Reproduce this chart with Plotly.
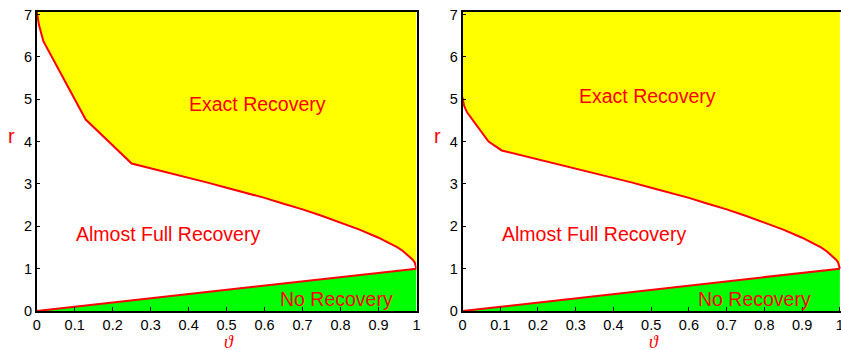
import plotly.graph_objects as go

# Phase-boundary samples (theta, r) for the two panels
theta_left = [0.0, 0.006, 0.0175, 0.129, 0.25, 0.3, 0.35, 0.4, 0.45, 0.5, 0.55, 0.6, 0.65, 0.7, 0.75,
              0.8, 0.85, 0.9, 0.925, 0.95, 0.965, 0.98, 0.99, 0.995, 0.999, 1.0]
r_left = [7.07, 6.75, 6.37, 4.52, 3.48, 3.37, 3.26, 3.15, 3.03, 2.91, 2.79, 2.67, 2.53, 2.40, 2.25,
          2.09, 1.92, 1.73, 1.62, 1.50, 1.41, 1.30, 1.21, 1.15, 1.06, 1.0]

theta_right = [0.0, 0.004, 0.012, 0.069, 0.104, 0.15, 0.2, 0.25, 0.3, 0.35, 0.4, 0.45, 0.5, 0.55, 0.6, 0.65,
               0.7, 0.75, 0.8, 0.85, 0.9, 0.925, 0.95, 0.965, 0.98, 0.99, 0.995, 0.999, 1.0]
r_right = [5.04, 4.85, 4.69, 4.00, 3.79, 3.69, 3.59, 3.48, 3.37, 3.26, 3.15, 3.03, 2.91, 2.79, 2.67, 2.53,
           2.40, 2.25, 2.09, 1.92, 1.73, 1.62, 1.50, 1.41, 1.30, 1.21, 1.15, 1.06, 1.0]

# Lower boundary r = theta (no-recovery region)
theta_low = [0.0, 1.0]
r_low = [0.0, 1.0]

x_ticks = [0, 0.1, 0.2, 0.3, 0.4, 0.5, 0.6, 0.7, 0.8, 0.9, 1]
x_tick_text = ["0", "0.1", "0.2", "0.3", "0.4", "0.5", "0.6", "0.7", "0.8", "0.9", "1"]
y_ticks = [0, 1, 2, 3, 4, 5, 6, 7]
y_tick_text = ["0", "1", "2", "3", "4", "5", "6", "7"]

region_labels = ["Exact Recovery", "Almost Full Recovery", "No Recovery"]
label_theta_left = [0.582, 0.345, 0.79]
label_r_left = [4.89, 1.82, 0.29]
label_theta_right = [0.489, 0.348, 0.775]
label_r_right = [5.08, 1.82, 0.29]

R_MAX = 7.07
W, H = 841, 350
YELLOW = "#ffff00"
GREEN = "#00ff00"
RED = "#ff0000"

fig = go.Figure()


def add_panel(theta, r, lab_x, lab_y, xa, ya):
    # yellow exact-recovery area above the boundary
    fig.add_trace(go.Scatter(
        x=theta + [1.0, 0.0], y=r + [R_MAX, R_MAX],
        fill="toself", fillcolor=YELLOW, line=dict(width=0),
        mode="lines", hoverinfo="skip", xaxis=xa, yaxis=ya))
    # green no-recovery area below r = theta
    fig.add_trace(go.Scatter(
        x=theta_low + [1.0], y=r_low + [0.0],
        fill="toself", fillcolor=GREEN, line=dict(width=0),
        mode="lines", hoverinfo="skip", xaxis=xa, yaxis=ya))
    # boundary curves
    fig.add_trace(go.Scatter(
        x=theta, y=r, mode="lines", line=dict(color=RED, width=2),
        hoverinfo="skip", xaxis=xa, yaxis=ya))
    fig.add_trace(go.Scatter(
        x=theta_low, y=r_low, mode="lines", line=dict(color=RED, width=2),
        hoverinfo="skip", xaxis=xa, yaxis=ya))
    for txt, tx, ty in zip(region_labels, lab_x, lab_y):
        fig.add_annotation(x=tx, y=ty, xref=xa, yref=ya, text=txt, showarrow=False,
                           xanchor="center", yanchor="middle",
                           font=dict(family="Liberation Sans, Arial", size=19.5, color=RED))


add_panel(theta_left, r_left, label_theta_left, label_r_left, "x", "y")
add_panel(theta_right, r_right, label_theta_right, label_r_right, "x2", "y2")

axis_common = dict(showline=True, linecolor="black", linewidth=1.5, mirror=True,
                   ticks="inside", ticklen=4, tickcolor="black", tickwidth=1,
                   showgrid=False, zeroline=False, automargin=False, ticklabeloverflow="allow",
                   tickfont=dict(family="Liberation Sans, Arial", size=14.5, color="black"))

y_bot, y_top = 1 - 311 / H, 1 - 11.5 / H
fig.update_layout(
    width=W, height=H, margin=dict(l=0, r=0, t=0, b=0, autoexpand=False),
    paper_bgcolor="white", plot_bgcolor="white", showlegend=False,
    xaxis=dict(domain=[36.7 / W, 416.5 / W], range=[0, 1], tickvals=x_ticks, ticktext=x_tick_text, **axis_common),
    yaxis=dict(domain=[y_bot, y_top], range=[0, R_MAX], tickvals=y_ticks, ticktext=y_tick_text, **axis_common),
    xaxis2=dict(domain=[462.5 / W, 1.0], range=[0, 1.003], tickvals=x_ticks, ticktext=x_tick_text,
                anchor="y2", **axis_common),
    yaxis2=dict(domain=[y_bot, y_top], range=[0, R_MAX], tickvals=y_ticks, ticktext=y_tick_text,
                anchor="x2", **axis_common),
)

# axis titles
for px in (11.5, 437.5):
    fig.add_annotation(x=px / W, y=1 - 136 / H, xref="paper", yref="paper", text="r", showarrow=False,
                       xanchor="center", yanchor="middle",
                       font=dict(family="Liberation Sans, Arial", size=20, color=RED))
for px in (229, 654):
    fig.add_annotation(x=px / W, y=1 - 342 / H, xref="paper", yref="paper", text="<i>ϑ</i>",
                       showarrow=False, xanchor="center", yanchor="middle",
                       font=dict(family="Liberation Serif, serif", size=18, color=RED))

fig.write_html("out.html")
